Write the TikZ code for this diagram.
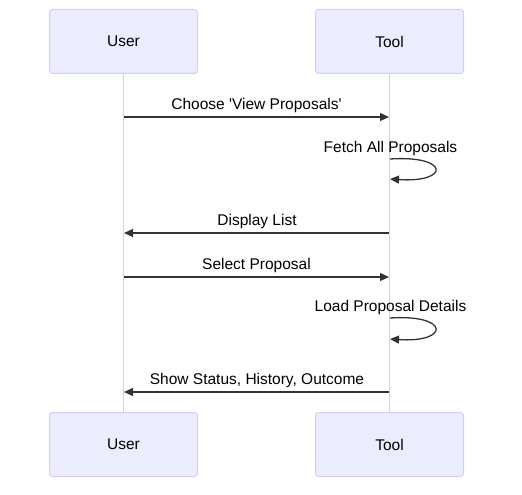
\documentclass[tikz,border=0pt]{standalone}
\usepackage{fontspec}
\setmainfont{Liberation Sans}
\usetikzlibrary{arrows.meta}
\definecolor{actfill}{HTML}{ECECFF}
\definecolor{actline}{HTML}{D8CCF3}
\definecolor{msg}{HTML}{333333}
\tikzset{
  actor/.style={draw=actline, fill=actfill, rounded corners=3pt, line width=1pt, minimum width=148pt, minimum height=64pt, inner sep=0pt, font=\fontsize{15.5}{18}\selectfont},
  lifeline/.style={draw=actline, line width=1.6pt},
  msgline/.style={draw=msg, line width=1.3pt, -{Triangle[length=9pt,width=8pt]}},
  msglabel/.style={font=\fontsize{15.5}{18}\selectfont, text=black, inner sep=0pt}
}
\begin{document}
\begin{tikzpicture}[x=1pt,y=-1pt]
\useasboundingbox (0,0) rectangle (522,495);
\node[actor] (ut) at (123.5,41.5) {User};
\node[actor] (tt) at (389.5,41.5) {Tool};
\node[actor] (ub) at (123.5,444.5) {User};
\node[actor] (tb) at (389.5,444.5) {Tool};
\draw[lifeline] (ut.south) -- (ub.north);
\draw[lifeline] (tt.south) -- (tb.north);
% messages
\coordinate (m1u) at (123.5,117); \coordinate (m1t) at (389,117);
\draw[msgline] (m1u) -- (m1t);
\node[msglabel] (l1) at (256.5,105) {Choose \textquotesingle View Proposals\textquotesingle};
\coordinate (s1a) at (390,159); \coordinate (s1b) at (390,179);
\draw[msgline] (s1a) .. controls (450,155) and (450,183) .. (s1b);
\node[msglabel] (l2) at (390.5,148) {Fetch All Proposals};
\coordinate (m3t) at (389,233); \coordinate (m3u) at (124,233);
\draw[msgline] (m3t) -- (m3u);
\node[msglabel] (l3) at (257,221) {Display List};
\coordinate (m4u) at (123.5,277); \coordinate (m4t) at (389,277);
\draw[msgline] (m4u) -- (m4t);
\node[msglabel] (l4) at (256.5,265) {Select Proposal};
\coordinate (s2a) at (390,318); \coordinate (s2b) at (390,339);
\draw[msgline] (s2a) .. controls (450,314) and (450,343) .. (s2b);
\node[msglabel] (l5) at (390.5,307) {Load Proposal Details};
\coordinate (m6t) at (389,392); \coordinate (m6u) at (124,392);
\draw[msgline] (m6t) -- (m6u);
\node[msglabel] (l6) at (257,380) {Show Status, History, Outcome};
\end{tikzpicture}
\end{document}
